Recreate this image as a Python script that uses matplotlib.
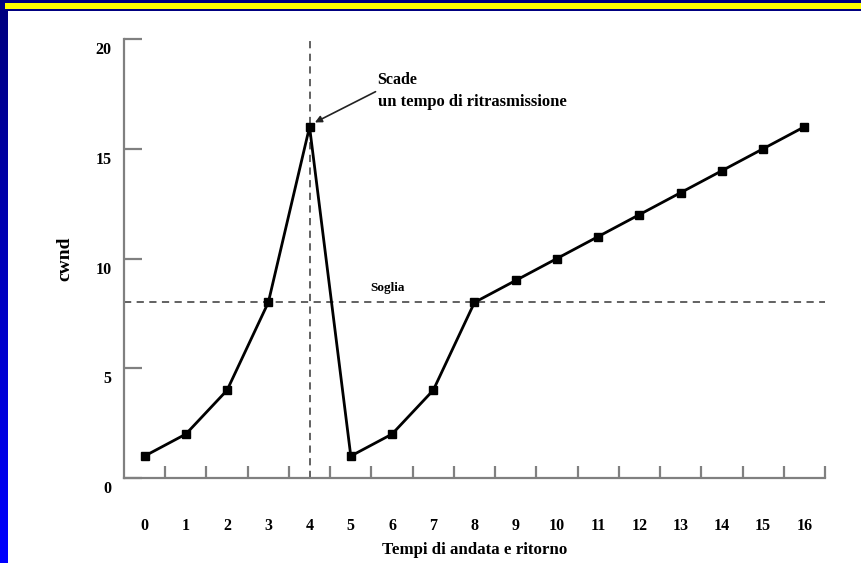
import matplotlib
matplotlib.use("Agg")
import matplotlib.pyplot as plt
import numpy as np
from matplotlib.transforms import ScaledTranslation
from matplotlib.patches import Rectangle
from matplotlib.colors import LinearSegmentedColormap

# ---- data ----
rtt = list(range(17))
cwnd = [1, 2, 4, 8, 16, 1, 2, 4, 8, 9, 10, 11, 12, 13, 14, 15, 16]
threshold = 8
timeout_rtt = 4
y_ticks = [0, 5, 10, 15, 20]
x_labels = [str(v) for v in rtt]
xlabel = "Tempi di andata e ritorno"
ylabel = "cwnd"
annot_line1 = "Scade"
annot_line2 = "un tempo di ritrasmissione"
soglia_label = "Soglia"

W, H = 862, 563
fig = plt.figure(figsize=(W / 100, H / 100), dpi=100, facecolor="#000080")

# background decoration
fig.patches.append(Rectangle((8 / W, 0), 1 - 8 / W, 1 - 11 / H, transform=fig.transFigure,
                             facecolor="white", edgecolor="none", zorder=-10))
fig.patches.append(Rectangle((5 / W, 1 - 9 / H), 1 - 5 / W, 5.5 / H, transform=fig.transFigure,
                             facecolor="#FFFF00", edgecolor="none", zorder=-10))
gax = fig.add_axes([0, 0, 8 / W, 1 - 11 / H])
grad = np.linspace(0, 1, 256).reshape(-1, 1)
cmap = LinearSegmentedColormap.from_list("b", ["#000080", "#0000FF"])
gax.imshow(grad, aspect="auto", cmap=cmap, origin="upper")
gax.axis("off")

serif = "Liberation Serif"
ax = fig.add_axes([124 / W, (H - 478) / H, (825 - 124) / W, (478 - 39) / H])
ax.set_zorder(5)
ax.set_facecolor("none")
ax.set_xlim(-0.5, 16.5)
ax.set_ylim(0, 20)

# reference lines
ax.axhline(threshold, color="#555555", lw=1.3, ls=(0, (4, 3)), zorder=1)
ax.axvline(timeout_rtt, color="#555555", lw=1.3, ls=(0, (4, 3)), zorder=1)

ax.plot(rtt, cwnd, color="black", lw=2, marker="s", ms=5.5, zorder=3)

for s in ["top", "right"]:
    ax.spines[s].set_visible(False)
for s in ["left", "bottom"]:
    ax.spines[s].set_color("#808080")
    ax.spines[s].set_linewidth(1.6)

# x ticks: labels at integers, tick marks at half integers
ax.set_xticks(rtt)
ax.set_xticklabels(x_labels, fontfamily=serif, fontweight="bold", fontsize=11.5)
ax.tick_params(axis="x", which="major", length=0, pad=29)
ax.set_xticks([v + 0.5 for v in rtt], minor=True)
ax.tick_params(axis="x", which="minor", direction="in", length=9, width=1.6, color="#808080")

ax.set_yticks(y_ticks)
ax.set_yticklabels([str(v) for v in y_ticks], fontfamily=serif, fontweight="bold", fontsize=11.5)
ax.tick_params(axis="y", which="major", direction="in", length=13, width=1.6, color="#808080", pad=9)
off = ScaledTranslation(0, -0.09, fig.dpi_scale_trans)
for lab in ax.get_yticklabels():
    lab.set_transform(lab.get_transform() + off)

fig.text(65 / W, 1 - 259 / H, ylabel, rotation=90, ha="center", va="center",
         fontfamily=serif, fontweight="bold", fontsize=14)
fig.text(475 / W, 1 - 550 / H, xlabel, ha="center", va="center",
         fontfamily=serif, fontweight="bold", fontsize=12.2)

ax.text(5.88, 8.66, soglia_label, ha="center", va="center",
        fontfamily=serif, fontweight="bold", fontsize=9.5)
ax.text(5.63, 18.13, annot_line1, ha="left", va="center",
        fontfamily=serif, fontweight="bold", fontsize=11.5)
ax.text(5.65, 17.13, annot_line2, ha="left", va="center",
        fontfamily=serif, fontweight="bold", fontsize=12)
ax.annotate("", xy=(4.13, 16.2), xytext=(5.6, 17.6),
            arrowprops=dict(arrowstyle="-|>", color="#222222", lw=1.2,
                            mutation_scale=10, shrinkA=0, shrinkB=0))

fig.savefig("out.png", dpi=100, facecolor=fig.get_facecolor())
